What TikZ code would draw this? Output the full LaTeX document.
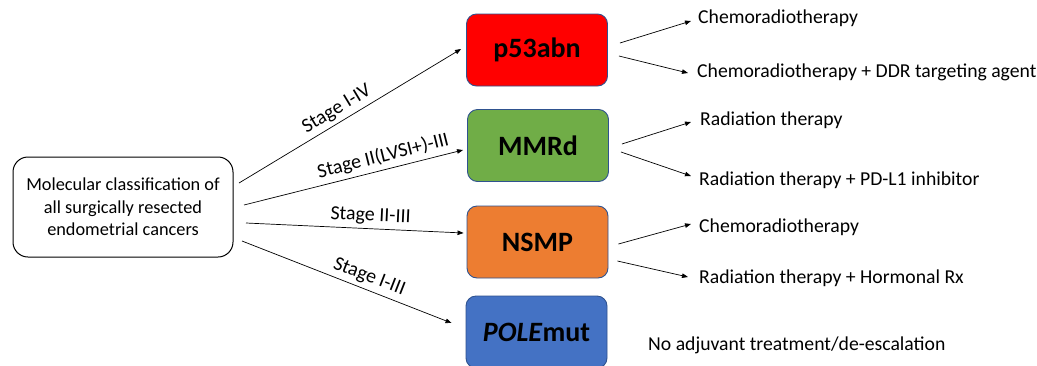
\documentclass[tikz,border=0pt]{standalone}
\usepackage{fontspec}
\setmainfont{Carlito}
\usetikzlibrary{arrows.meta,calc}
\definecolor{cred}{HTML}{FF0000}
\definecolor{cgreen}{HTML}{70AD47}
\definecolor{corange}{HTML}{ED7D31}
\definecolor{cblue}{HTML}{4472C4}
\definecolor{cedge}{HTML}{2F528F}
\tikzset{
  arr/.style={draw=black, line width=0.7pt, -{Triangle[length=6pt,width=4.5pt]}},
  cls/.style={draw=cedge, line width=0.9pt, rounded corners=10pt, minimum width=141pt, minimum height=72pt, inner sep=0pt, font=\fontsize{28}{34}\selectfont\bfseries},
  txt/.style={anchor=west, inner sep=0pt, font=\fontsize{19.7}{23}\selectfont},
  stg/.style={sloped, above, inner sep=0pt, font=\fontsize{20}{23}\selectfont},
}
\begin{document}
\begin{tikzpicture}[x=1pt,y=-1pt]
\useasboundingbox (0,0) rectangle (1037,365);
\fill[white] (0,0) rectangle (1037,365);
\begin{scope}
\clip (0,0) rectangle (1037,365);
% left box
\node[draw=black, line width=1pt, rounded corners=15pt, minimum width=220pt, minimum height=100pt, align=center, inner sep=0pt, font=\fontsize{18.3}{22.5}\selectfont] (src) at (123,207) {Molecular classification of\\all surgically resected\\endometrial cancers};
% class boxes
\node[cls, fill=cred] (p53) at (537,50) {p53abn};
\node[cls, fill=cgreen] (mmr) at (538,145.5) {MMRd};
\node[cls, fill=corange] (nsmp) at (537.5,242) {NSMP};
\node[cls, fill=cblue] (pole) at (536.5,332) {\textit{POLE}mut};
\end{scope}
% start coordinates
\coordinate (s1) at (239,183);
\coordinate (s2) at (244,205);
\coordinate (s3) at (246,223);
\coordinate (s4) at (242,241);
% stage arrows
\draw[arr] (s1) -- ($(p53.west)+(-5,-1)$) node[stg, pos=0.47, yshift=4pt] {Stage I-IV};
\draw[arr] (s2) -- ($(mmr.west)+(-4,4.5)$) node[stg, pos=0.65, yshift=4pt] {Stage II(LVSI+)-III};
\draw[arr] (s3) -- ($(nsmp.west)+(-3,-9)$) node[stg, pos=0.57, yshift=4pt] {Stage II-III};
\draw[arr] (s4) -- ($(pole.west)+(-14,-9)$) node[stg, pos=0.585, yshift=4pt] {Stage I-III};
% treatment texts
\node[txt] (t1) at (698,18) {Chemoradiotherapy};
\node[txt] (t2) at (697,72) {Chemoradiotherapy + DDR targeting agent};
\node[txt] (t3) at (700,120) {Radiation therapy};
\node[txt] (t4) at (699,180) {Radiation therapy + PD-L1 inhibitor};
\node[txt] (t5) at (699,227) {Chemoradiotherapy};
\node[txt] (t6) at (699,278) {Radiation therapy + Hormonal Rx};
\node[txt] (t7) at (648,345) {No adjuvant treatment/de-escalation};
% treatment arrows
\draw[arr] ($(p53.east)+(12,-7)$) -- ($(t1.west)+(-7,3)$);
\draw[arr] ($(p53.east)+(11,6)$) -- ($(t2.west)+(-9,1)$);
\draw[arr] ($(mmr.east)+(13,-1.5)$) -- ($(t3.west)+(-9,2)$);
\draw[arr] ($(mmr.east)+(12,6.5)$) -- ($(t4.west)+(-8,-4)$);
\draw[arr] ($(nsmp.east)+(10,2)$) -- ($(t5.west)+(-8,-3)$);
\draw[arr] ($(nsmp.east)+(9,19)$) -- ($(t6.west)+(-11,-1)$);
\end{tikzpicture}
\end{document}
